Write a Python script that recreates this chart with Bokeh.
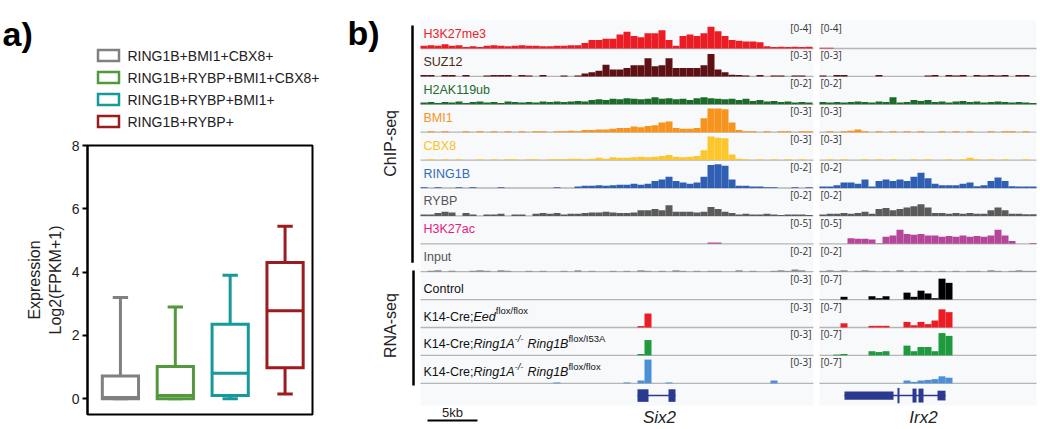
import math
from bokeh.plotting import figure
from bokeh.models import ColumnDataSource, Range1d, FixedTicker
from bokeh.layouts import row, column
from bokeh.transform import dodge
from bokeh.embed import file_html
from bokeh.resources import INLINE
from bokeh.core.properties import value

FONT = "Liberation Sans"

# ---------------- panel a data ----------------
GROUPS = ["RING1B+BMI1+CBX8+", "RING1B+RYBP+BMI1+CBX8+", "RING1B+RYBP+BMI1+", "RING1B+RYBP+"]
BOX_COLORS = ["#808080", "#52983d", "#17999a", "#9b1b1f"]
WHISK_LO = [0.0, 0.0, 0.0, 0.15]
Q1 = [0.0, 0.0, 0.1, 0.98]
MEDIAN = [0.04, 0.1, 0.8, 2.78]
Q3 = [0.72, 1.02, 2.35, 4.3]
WHISK_HI = [3.2, 2.9, 3.9, 5.45]
Y_TICKS = [0, 2, 4, 6, 8]

# ---------------- panel b data ----------------
TRACKS = ["H3K27me3", "SUZ12", "H2AK119ub", "BMI1", "CBX8", "RING1B", "RYBP", "H3K27ac", "Input",
          "Control", "Eed", "I53A", "floxflox"]
CHIP_LABEL_COLORS = ["#ec2227", "#4a2a12", "#1d6a2c", "#f7941d", "#f8c41a", "#2f6db5", "#555555",
                     "#e8197f", "#555555"]
SIGNAL_COLORS = ["#ec1c24", "#5e1014", "#1c6b2b", "#f7941d", "#fcc72c", "#2f5fb3", "#5b5b5b",
                 "#b5479b", "#8a8a8a", "#000000", "#ec1c24", "#1f9a3e", "#4d8fd6"]
RANGE_LEFT = ["[0-4]", "[0-3]", "[0-2]", "[0-3]", "[0-3]", "[0-2]", "[0-2]", "[0-5]", "[0-2]",
              "[0-3]", "[0-3]", "[0-3]", "[0-3]"]
RANGE_RIGHT = ["[0-4]", "[0-3]", "[0-2]", "[0-3]", "[0-3]", "[0-2]", "[0-2]", "[0-5]", "[0-2]",
               "[0-7]", "[0-7]", "[0-7]", "[0-7]"]

# signal heights (fraction of track height), 0.7 kb bins; left locus (Six2) 56 bins, right (Irx2) 31 bins
H3K27ME3_L = [0.10,0.12,0.10,0.15,0.10,0.12,0.05,0.08,0.05,0.10,
              0.12,0.10,0.08,0.10,0.12,0.10,0.10,0.08,0.08,0.10,
              0.10,0.12,0.12,0.20,0.30,0.30,0.35,0.35,0.50,0.60,
              0.45,0.40,0.55,0.55,0.65,0.30,0.10,0.45,0.50,0.45,
              0.55,0.78,0.62,0.45,0.30,0.28,0.25,0.25,0.22,0.08,
              0.05,0.06,0.05,0.06,0.05,0.06]
H3K27ME3_R = [0.03,0.03,0,0,0,0,0,0,0,0, 0,0,0,0,0,0,0,0,0,0, 0,0,0,0,0,0,0,0,0,0, 0]
SUZ12_L = [0.05,0.05,0,0.05,0.05,0,0.05,0,0,0.03,
           0.05,0.05,0.05,0,0.05,0.03,0,0.05,0,0,
           0.03,0,0.03,0.1,0.15,0.2,0.42,0.25,0.25,0.3,
           0.4,0.4,0.65,0.36,0.4,0.65,0.3,0.3,0.3,0.3,
           0.4,0.8,0.25,0.15,0.06,0.05,0.03,0,0.05,0,
           0.03,0.03,0,0.03,0.03,0]
SUZ12_R = [0.03,0,0.05,0.05,0,0,0,0,0.05,0, 0,0,0,0,0,0.03,0.05,0,0.05,0.03,
           0.05,0,0.05,0.03,0.05,0.03,0.05,0,0.05,0.05, 0]
H2AK119UB_L = [0.06,0.08,0.05,0.08,0.06,0.1,0.05,0.08,0.1,0.06,
               0.08,0.05,0.1,0.08,0.06,0.08,0.06,0.1,0.08,0.1,
               0.08,0.1,0.12,0.1,0.15,0.18,0.15,0.2,0.18,0.22,
               0.2,0.18,0.2,0.25,0.2,0.22,0.18,0.2,0.15,0.22,
               0.25,0.22,0.2,0.18,0.2,0.15,0.2,0.12,0.15,0.1,
               0.12,0.08,0.1,0.06,0.08,0.06]
H2AK119UB_R = [0.08,0.06,0.08,0.06,0.08,0.1,0.08,0.06,0.1,0.08,
               0.25,0.06,0.08,0.15,0.12,0.15,0.08,0.1,0.06,0.1,
               0.12,0.08,0.1,0.06,0.08,0.1,0.08,0.06,0.08,0.06, 0.05]
BMI1_L = [0,0.03,0,0.03,0,0,0.03,0,0.03,0,
          0.03,0,0.03,0,0.03,0,0.03,0.03,0,0.03,
          0.03,0.05,0.03,0.08,0.08,0.1,0.1,0.12,0.15,0.15,
          0.2,0.18,0.22,0.25,0.35,0.38,0.15,0.12,0.12,0.15,
          0.5,0.85,0.85,0.82,0.35,0.08,0.03,0.03,0,0.03,
          0,0.03,0.03,0,0.03,0.03]
BMI1_R = [0,0.03,0,0.03,0.05,0.1,0.03,0,0.03,0, 0.03,0,0.03,0,0.03,0,0,0.03,0,0.03,
          0,0.03,0,0,0.03,0,0.03,0.03,0,0.03, 0]
CBX8_L = [0,0.03,0,0.03,0,0.03,0,0,0.03,0,
          0.03,0,0.03,0.03,0,0.03,0.03,0,0.03,0.03,
          0.03,0.05,0.05,0.03,0.05,0.08,0.05,0.1,0.08,0.08,
          0.1,0.12,0.1,0.12,0.15,0.18,0.12,0.1,0.12,0.15,
          0.35,0.85,0.8,0.78,0.2,0.05,0.03,0,0.03,0,
          0.03,0,0.03,0,0.03,0]
CBX8_R = [0,0.03,0,0.03,0,0,0.03,0,0.03,0, 0.03,0,0,0.03,0,0.03,0,0,0.03,0,
          0.03,0.08,0.03,0,0.03,0,0.03,0,0,0.03, 0]
RING1B_L = [0.03,0,0.03,0,0,0.03,0,0.03,0,0,
            0,0.03,0,0,0,0,0,0,0,0.03,
            0,0,0.05,0.08,0.08,0.1,0.08,0.1,0.12,0.12,
            0.15,0.12,0.15,0.25,0.3,0.4,0.25,0.2,0.15,0.2,
            0.4,0.82,0.85,0.8,0.3,0.08,0.08,0.05,0.05,0.03,
            0.03,0,0,0.03,0,0.03]
RING1B_R = [0.05,0.05,0.1,0.2,0.2,0.15,0.3,0.05,0.25,0.3,
            0.25,0.3,0.25,0.4,0.55,0.35,0.15,0.1,0.1,0.1,
            0.15,0.2,0.06,0.1,0.25,0.38,0.25,0.06,0.05,0.05, 0.05]
RYBP_L = [0.05,0.05,0.1,0.15,0.12,0,0.1,0.05,0,0.05,
          0.05,0.08,0,0.05,0.05,0,0.08,0.1,0.08,0.1,
          0.05,0.08,0.08,0.1,0.12,0.12,0.15,0.12,0.1,0.1,
          0.12,0.2,0.2,0.25,0.2,0.38,0.15,0.15,0.15,0.12,
          0.15,0.32,0.25,0.15,0.1,0.05,0.08,0.05,0.05,0.08,
          0.05,0.03,0.05,0.05,0.05,0.03]
RYBP_R = [0.05,0.08,0.08,0.1,0.08,0.1,0.15,0.08,0.25,0.28,
          0.2,0.25,0.3,0.35,0.42,0.3,0.1,0.1,0.08,0.1,
          0.08,0.1,0.08,0.08,0.2,0.3,0.2,0.08,0.08,0.06, 0.06]
H3K27AC_L = [0]*41 + [0.05, 0.05] + [0]*13
H3K27AC_R = [0,0,0,0,0.2,0.18,0.18,0.15,0.02,0.25,
             0.3,0.5,0.35,0.32,0.35,0.3,0.3,0.25,0.28,0.25,
             0.3,0.25,0.28,0.25,0.3,0.5,0.3,0.1,0,0, 0.03]
INPUT_L = [0,0.03,0.05,0,0.03,0,0,0.03,0.05,0.03,
           0,0.05,0.03,0,0,0.03,0,0.03,0,0,
           0.03,0,0.05,0,0.03,0,0,0.03,0,0.03,
           0,0.05,0.03,0,0.03,0,0.05,0.03,0,0.03,
           0,0.03,0.03,0,0,0.05,0,0.03,0,0,
           0.03,0.05,0.03,0.08,0.05,0]
INPUT_R = [0.03,0.05,0.03,0.05,0,0.03,0.05,0.03,0,0.03,
           0,0.05,0,0.03,0,0.03,0,0.03,0,0.03,
           0,0.03,0.03,0,0.05,0.03,0,0.03,0.05,0.03, 0.03]
CONTROL_L = [0]*56
CONTROL_R = [0,0,0,0.1,0,0,0,0.12,0.05,0.12, 0,0,0.25,0.1,0.32,0.22,0.05,0.75,0.6,0,
             0,0,0,0,0,0,0,0,0,0, 0]
EED_L = [0]*31 + [0.05, 0.5] + [0]*23
EED_R = [0,0,0,0.15,0,0,0,0.06,0.06,0.06, 0,0,0.2,0.08,0.2,0.12,0.25,0.65,0.55,0,
         0,0,0,0,0,0,0,0,0,0, 0]
I53A_L = [0]*31 + [0.05, 0.55] + [0]*23
I53A_R = [0,0,0.03,0.05,0,0,0,0.15,0.12,0.15, 0,0,0.35,0.15,0.3,0.3,0.15,0.8,0.7,0,
          0,0,0,0,0,0,0,0,0,0, 0]
FLOX_L = [0]*19 + [0.03] + [0]*9 + [0.03, 0, 0.1, 0.85, 0, 0, 0.03] + [0]*14 + [0.1] + [0]*5
FLOX_R = [0,0,0,0,0,0,0,0,0,0, 0,0,0.1,0.05,0.1,0.12,0.15,0.25,0.2,0,
          0,0,0,0,0,0,0,0,0,0, 0]

LEFT_SIGNALS = [H3K27ME3_L, SUZ12_L, H2AK119UB_L, BMI1_L, CBX8_L, RING1B_L, RYBP_L, H3K27AC_L,
                INPUT_L, CONTROL_L, EED_L, I53A_L, FLOX_L]
RIGHT_SIGNALS = [H3K27ME3_R, SUZ12_R, H2AK119UB_R, BMI1_R, CBX8_R, RING1B_R, RYBP_R, H3K27AC_R,
                 INPUT_R, CONTROL_R, EED_R, I53A_R, FLOX_R]

# gene models (kb)
GENE_NAMES = ["Six2", "Irx2"]
GENE_LABEL_X = [23.9, 50.3]
GENE_START = [21.7, 42.4]
GENE_END = [25.5, 52.5]
EXON_START = [21.7, 24.8, 42.4, 47.7, 49.2, 49.8, 51.7]
EXON_END = [22.8, 25.5, 47.3, 47.9, 49.6, 50.3, 52.5]
EXON_HEIGHT = [0.45, 0.45, 0.3, 0.55, 0.5, 0.5, 0.35]
SCALE_KB = 5

RNA_LABELS = [
    [("Control", "n")],
    [("K14-Cre;", "n"), ("Eed", "i"), ("flox/flox", "s")],
    [("K14-Cre;", "n"), ("Ring1A", "i"), ("-/-", "si"), (" ", "n"), ("Ring1B", "i"), ("flox/I53A", "s")],
    [("K14-Cre;", "n"), ("Ring1A", "i"), ("-/-", "si"), (" ", "n"), ("Ring1B", "i"), ("flox/flox", "s")],
]

# ================= panel a : header (label + legend) =================
LEFT_W = 340
HEAD_H = 132
head = figure(width=LEFT_W, height=HEAD_H, x_range=Range1d(0, LEFT_W), y_range=Range1d(HEAD_H, 0),
              output_backend="svg", toolbar_location=None, min_border=0,
              x_axis_location=None, y_axis_location=None)
head.grid.visible = False
head.outline_line_color = None
head.frame_align = False
LEG_X = 108
LEG_Y0 = 55
LEG_DY = 22
leg_src = ColumnDataSource(dict(x=[LEG_X] * len(GROUPS),
                                y=[LEG_Y0 + LEG_DY * i for i in range(len(GROUPS))],
                                tx=[LEG_X + 19] * len(GROUPS),
                                color=BOX_COLORS, label=GROUPS))
head.rect(x="x", y="y", width=21, height=11, fill_color="white", line_color="color",
          line_width=2.5, line_join="miter", source=leg_src)
head.text(x="tx", y="y", text="label", text_font=value(FONT), text_font_size="14px",
          text_baseline="middle", text_align="left", text_color="#222222", source=leg_src)
head.text(x=[2], y=[33], text=["a)"], text_font=value(FONT), text_font_size="34px",
          text_font_style="bold", text_baseline="alphabetic", text_color="black")

# ================= panel a : box plot =================
pa = figure(width=LEFT_W, height=429 - HEAD_H, x_range=Range1d(0.4, 4.5), y_range=Range1d(-0.5, 8),
            output_backend="svg", toolbar_location=None, x_axis_location=None,
            min_border_left=87, min_border_right=28, min_border_top=145 - HEAD_H, min_border_bottom=15)
pa.frame_align = False
pa.grid.visible = False
pa.outline_line_color = "black"
pa.outline_line_width = 2
pa.background_fill_color = "white"
pa.border_fill_color = "white"

ya = pa.yaxis[0]
ya.ticker = FixedTicker(ticks=Y_TICKS)
ya.axis_line_width = 2
ya.major_tick_line_width = 2
ya.major_tick_out = 5
ya.major_tick_in = 0
ya.minor_tick_line_color = None
ya.major_label_standoff = 3
ya.major_label_text_font = FONT
ya.major_label_text_font_size = "14px"
ya.major_label_text_color = "#222222"
ya.axis_label = "Expression\nLog2(FPKM+1)"
ya.axis_label_text_font = FONT
ya.axis_label_text_font_size = "16px"
ya.axis_label_text_font_style = "normal"
ya.axis_label_text_color = "#222222"
ya.axis_label_standoff = 5

src = ColumnDataSource(dict(x=[1, 2, 3, 4], lo=WHISK_LO, q1=Q1, med=MEDIAN, q3=Q3, hi=WHISK_HI,
                            color=BOX_COLORS, label=GROUPS))
CAP = 0.14
BW = 0.33
pa.segment(x0="x", y0="q3", x1="x", y1="hi", line_color="color", line_width=3, source=src)
pa.segment(x0="x", y0="lo", x1="x", y1="q1", line_color="color", line_width=3, source=src)
pa.segment(x0=dodge("x", -CAP), y0="hi", x1=dodge("x", CAP), y1="hi", line_color="color",
           line_width=3, source=src)
pa.segment(x0=dodge("x", -CAP), y0="lo", x1=dodge("x", CAP), y1="lo", line_color="color",
           line_width=3, source=src)
pa.vbar(x="x", width=2 * BW, bottom="q1", top="q3", fill_color="white", line_color="color",
        line_width=3, line_join="miter", source=src)
pa.segment(x0=dodge("x", -BW), y0="med", x1=dodge("x", BW), y1="med", line_color="color",
           line_width=3, source=src)

# ================= panel b =================
PX_KB = 10.0        # px per kb
TRACK_PX = 27.9     # px per track
BIN = 0.7
L_END = 39.3
R_START = 39.9
R_END = 61.6
N_TR = len(TRACKS)
GENE_BOTTOM = -(N_TR + 0.8)

pb = figure(width=1040 - LEFT_W, height=429, x_range=Range1d(-8.0, 62.0), y_range=Range1d(-14.656, 0.72),
            output_backend="svg", toolbar_location=None, min_border=0,
            x_axis_location=None, y_axis_location=None)
pb.frame_align = False
pb.grid.visible = False
pb.outline_line_color = None
pb.background_fill_color = "white"
pb.border_fill_color = "white"

pb.quad(left=[0, R_START], right=[L_END, R_END], top=[0, 0], bottom=[GENE_BOTTOM] * 2,
        fill_color="#f8f9fb", line_color=None)

# baselines
bx0, bx1, by = [], [], []
for i in range(N_TR):
    for a, b in ((0, L_END), (R_START, R_END)):
        bx0.append(a); bx1.append(b); by.append(-(i + 1))
pb.segment(x0=bx0, y0=by, x1=bx1, y1=by, line_color="#b5b5b5", line_width=1.3)

# signals
sx, sb, st, sc = [], [], [], []
for i in range(N_TR):
    base = -(i + 1)
    for k, v in enumerate(LEFT_SIGNALS[i]):
        if v > 0:
            sx.append(k * BIN + BIN / 2); sb.append(base); st.append(base + v); sc.append(SIGNAL_COLORS[i])
    for k, v in enumerate(RIGHT_SIGNALS[i]):
        if v > 0:
            sx.append(R_START + k * BIN + BIN / 2); sb.append(base); st.append(base + v); sc.append(SIGNAL_COLORS[i])
pb.vbar(x=sx, bottom=sb, top=st, width=BIN, fill_color=sc, line_color=None)

# gene models
gy = -(N_TR + 0.44)
pb.segment(x0=GENE_START, y0=[gy] * 2, x1=GENE_END, y1=[gy] * 2, line_color="#2b3990", line_width=1.5)
pb.quad(left=EXON_START, right=EXON_END, bottom=[gy - h / 2 for h in EXON_HEIGHT],
        top=[gy + h / 2 for h in EXON_HEIGHT], fill_color="#2b3990", line_color=None)
pb.text(x=GENE_LABEL_X, y=[-14.58] * 2, text=GENE_NAMES, text_font=value(FONT),
        text_font_size="17px", text_font_style="italic", text_align="center",
        text_baseline="bottom", text_color="#222222")

# scale bar
sb_y = -(N_TR + 1.33)
pb.segment(x0=[0.7], y0=[sb_y], x1=[0.7 + SCALE_KB], y1=[sb_y], line_color="black", line_width=2)
pb.text(x=[0.7 + SCALE_KB / 2], y=[sb_y + 0.3], text=[f"{SCALE_KB}kb"], text_font=value(FONT),
        text_font_size="13px", text_align="center", text_baseline="middle", text_color="#222222")

# track name labels (ChIP)
pb.text(x=[0.3] * 9, y=[-i - 13.5 / TRACK_PX for i in range(9)], text=TRACKS[:9],
        text_color=CHIP_LABEL_COLORS, text_font=value(FONT), text_font_size="12.5px",
        text_baseline="alphabetic", text_align="left")

# RNA labels with italics and superscripts
ARIAL = {'K': 667, '1': 556, '4': 556, '-': 333, 'C': 722, 'r': 333, 'e': 556, ';': 278, 'E': 667,
         'd': 556, 'f': 278, 'l': 222, 'o': 556, 'x': 500, '/': 278, 'R': 722, 'i': 222, 'n': 556,
         'g': 556, 'A': 667, 'B': 667, 'I': 278, '5': 556, '3': 556, ' ': 278, 't': 278}
MAIN_SIZE = 12.5
SUP_SIZE = 9.5
pieces = {}
for r, parts in enumerate(RNA_LABELS):
    ti = 9 + r
    xpx = 0.3 * PX_KB
    for txt, sty in parts:
        size = SUP_SIZE if sty.startswith("s") else MAIN_SIZE
        dy = 11.0 if sty.startswith("s") else 17.0
        if txt.strip():
            pieces.setdefault(sty, ([], [], []))
            pieces[sty][0].append(xpx / PX_KB)
            pieces[sty][1].append(-ti - dy / TRACK_PX)
            pieces[sty][2].append(txt)
        xpx += sum(ARIAL.get(c, 556) for c in txt) * size / 1000.0 + (0.5 if sty.startswith("s") else 0)
for sty, (xs, ys, ts) in pieces.items():
    pb.text(x=xs, y=ys, text=ts, text_font=value(FONT),
            text_font_size=f"{SUP_SIZE if sty.startswith('s') else MAIN_SIZE}px",
            text_font_style="italic" if sty in ("i", "si") else "normal",
            text_color="#111111", text_baseline="alphabetic", text_align="left")

# range labels
pb.text(x=[39.1] * N_TR, y=[-i - 7 / TRACK_PX for i in range(N_TR)], text=RANGE_LEFT,
        text_font=value("Open Sans"), text_font_size="10px", text_align="right",
        text_baseline="middle", text_color="#333333")
pb.text(x=[40.0] * N_TR, y=[-i - 7 / TRACK_PX for i in range(N_TR)], text=RANGE_RIGHT,
        text_font=value("Open Sans"), text_font_size="10px", text_align="left",
        text_baseline="middle", text_color="#333333")

# group bars and labels
pb.segment(x0=[-0.8, -0.7], y0=[-0.18, -8.96], x1=[-0.8, -0.7], y1=[-8.68, -13.08],
           line_color="black", line_width=2.5)
pb.text(x=[-3.0, -3.0], y=[-4.4, -10.93], text=["ChIP-seq", "RNA-seq"], angle=math.pi / 2,
        text_font=value(FONT), text_font_size="16px", text_align="center", text_baseline="middle",
        text_color="#222222")
pb.text(x=[-7.3], y=[(20.1 - 33) / TRACK_PX], text=["b)"], text_font=value(FONT), text_font_size="34px",
        text_font_style="bold", text_baseline="alphabetic", text_align="left", text_color="black")

layout = row(column(head, pa, spacing=0), pb, spacing=0)
open("out.html", "w").write(file_html(layout, INLINE))
